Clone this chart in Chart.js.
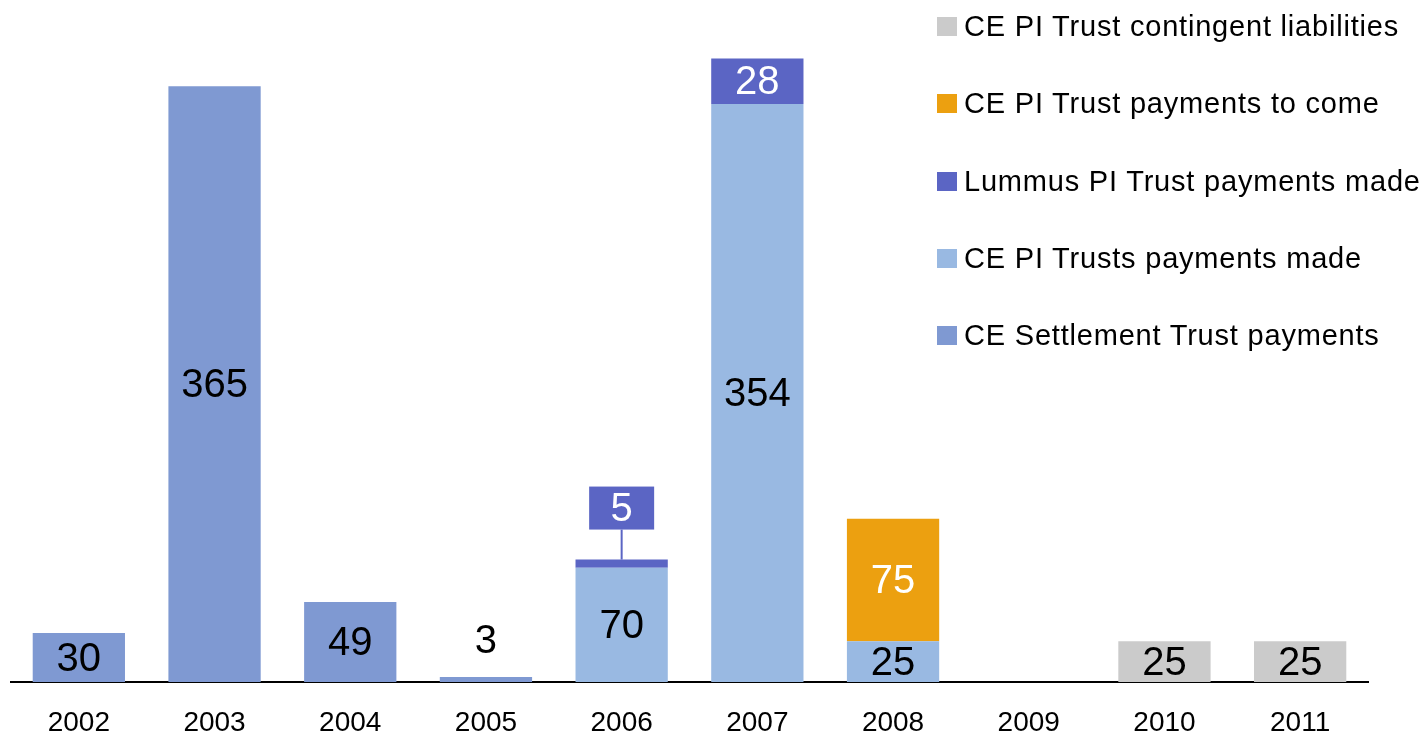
<!DOCTYPE html>
<html>
<head>
<meta charset="utf-8">
<script src="https://cdn.jsdelivr.net/npm/chart.js@4.4.0/dist/chart.umd.min.js"></script>
<style>
  html, body { margin: 0; padding: 0; background: #fff; overflow: hidden; }
  #wrap { position: relative; width: 1427px; height: 734px; }
  #legend { position: absolute; left: 937px; top: -12px; font-family: "Liberation Sans", Arial, sans-serif; font-size: 29px; letter-spacing: 0.8px; color: #000; }
  .item { display: flex; align-items: center; height: 77.3px; }
  .box { width: 20px; height: 19px; margin-right: 7px; }
</style>
</head>
<body>
<div id="wrap">
  <canvas id="canvas" width="1427" height="734"></canvas>
  <div id="legend"></div>
</div>
<script>
// categories
years = ['2002', '2003', '2004', '2005', '2006', '2007', '2008', '2009', '2010', '2011']

// series (bottom of stack first)
settlementPaid = [30, 365, 49, 3, 0, 0, 0, 0, 0, 0]
piTrustsPaid = [0, 0, 0, 0, 70, 354, 25, 0, 0, 0]
lummusPaid = [0, 0, 0, 0, 5, 28, 0, 0, 0, 0]
piToCome = [0, 0, 0, 0, 0, 0, 75, 0, 0, 0]
piContingent = [0, 0, 0, 0, 0, 0, 0, 0, 25, 25]

seriesNames = [
    'CE Settlement Trust payments',
    'CE PI Trusts payments made',
    'Lummus PI Trust payments made',
    'CE PI Trust payments to come',
    'CE PI Trust contingent liabilities'
]
seriesColors = ['#7f99d2', '#99b9e2', '#5b65c4', '#eca010', '#cbcbcb']
labelColors = ['#000', '#000', '#fff', '#fff', '#000']

const FONT = '"Liberation Sans", Arial, sans-serif';

// draws the numbers inside / above each segment
const valueLabels = {
    id: 'valueLabels',
    afterDatasetsDraw(chart) {
        const ctx = chart.ctx;
        ctx.save();
        ctx.font = '40px ' + FONT;
        ctx.textAlign = 'center';
        ctx.textBaseline = 'middle';
        chart.data.datasets.forEach(function (ds, di) {
            const meta = chart.getDatasetMeta(di);
            meta.data.forEach(function (bar, i) {
                const v = ds.data[i];
                if (!v) return;
                const h = bar.base - bar.y;
                if (h >= 30) {
                    ctx.fillStyle = labelColors[di];
                    ctx.fillText(v, bar.x, bar.y + h / 2 + 2);
                } else if (di === 0) {
                    // tiny bar alone: plain label above
                    ctx.fillStyle = '#000';
                    ctx.fillText(v, bar.x, bar.y - 35);
                } else {
                    // callout box above the stack
                    const bw = 65, bh = 43, gap = 30;
                    const by = bar.y - gap - bh;
                    ctx.strokeStyle = seriesColors[di];
                    ctx.lineWidth = 2;
                    ctx.beginPath();
                    ctx.moveTo(bar.x, bar.y);
                    ctx.lineTo(bar.x, bar.y - gap);
                    ctx.stroke();
                    ctx.fillStyle = seriesColors[di];
                    ctx.fillRect(bar.x - bw / 2, by, bw, bh);
                    ctx.fillStyle = labelColors[di];
                    ctx.fillText(v, bar.x, by + bh / 2 + 2);
                }
            });
        });
        ctx.restore();
    }
};

const allSeries = [settlementPaid, piTrustsPaid, lummusPaid, piToCome, piContingent];

const ctx = document.getElementById('canvas').getContext('2d');
const myChart = new Chart(ctx, {
    type: 'bar',
    data: {
        labels: years,
        datasets: allSeries.map(function (arr, i) {
            return {
                label: seriesNames[i],
                data: arr,
                backgroundColor: seriesColors[i],
                borderWidth: 0,
                categoryPercentage: 0.68,
                barPercentage: 1
            };
        })
    },
    options: {
        responsive: false,
        animation: false,
        layout: { padding: { left: 11, right: 59, top: 29, bottom: 0 } },
        plugins: {
            legend: { display: false },
            tooltip: { enabled: false }
        },
        scales: {
            x: {
                stacked: true,
                grid: { display: false },
                border: { display: true, color: '#000', width: 2 },
                ticks: { color: '#000', padding: 16, font: { family: FONT, size: 28 } },
                afterFit: function (scale) { scale.height = 52; }
            },
            y: {
                stacked: true,
                display: false,
                min: 0,
                max: 400
            }
        }
    },
    plugins: [valueLabels]
});

// legend, top entry = top of stack
const legendDiv = document.getElementById('legend');
for (let i = seriesNames.length - 1; i >= 0; --i) {
    const row = document.createElement('div');
    row.className = 'item';
    row.innerHTML = '<span class="box" style="background:' + seriesColors[i] + '"></span><span>' + seriesNames[i] + '</span>';
    legendDiv.appendChild(row);
}
</script>
</body>
</html>
